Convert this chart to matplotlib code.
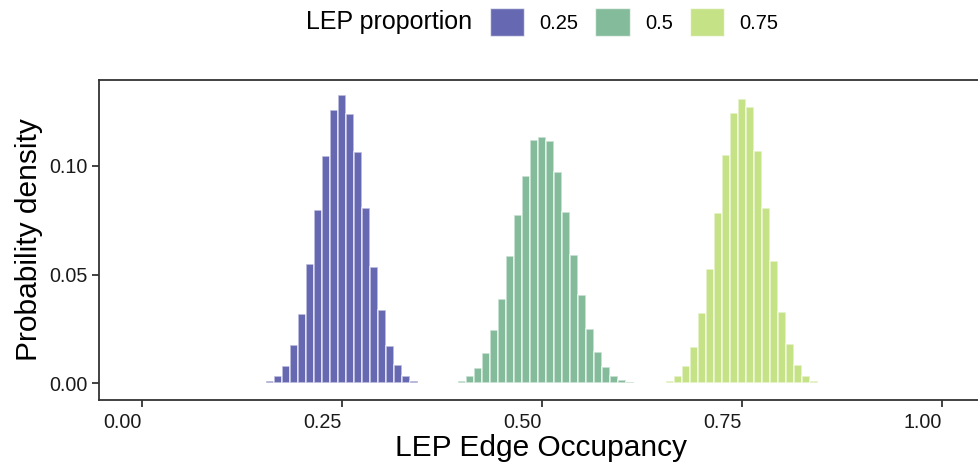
import numpy as np
import matplotlib.pyplot as plt
from matplotlib.patches import Patch

plt.rcParams['font.family'] = ['Liberation Sans', 'DejaVu Sans']

# histogram of LEP edge occupancy, one group per LEP proportion (bin width 0.01)
bin_width = 0.01
groups = ['0.25', '0.5', '0.75']
colors = ['#6768B2', '#84BB9B', '#C5E286']

# first bin centre of each group
first_bin = [0.04, 0.35, 0.66]

# proportion of samples per bin
dens_025 = [0.0002, 0.0002, 0.0002, 0.0002, 0.0002, 0.0002, 0.0002, 0.0002,
            0.0002, 0.0002, 0.0002, 0.0002,
            0.0008, 0.0031, 0.0078, 0.0174, 0.0317, 0.0547, 0.0797, 0.1046,
            0.1258, 0.1327, 0.1240, 0.1066, 0.0808, 0.0535, 0.0335, 0.0172,
            0.0081, 0.0032, 0.0009]
dens_050 = [0.0002, 0.0002, 0.0002, 0.0002, 0.0002,
            0.0011, 0.0031, 0.0071, 0.0140, 0.0244, 0.0389, 0.0584, 0.0776,
            0.0955, 0.1118, 0.1134, 0.1117, 0.0971, 0.0787, 0.0590, 0.0404,
            0.0249, 0.0144, 0.0074, 0.0032, 0.0012, 0.0003]
dens_075 = [0.0009, 0.0031, 0.0080, 0.0166, 0.0323, 0.0527, 0.0785, 0.1049,
            0.1246, 0.1309, 0.1272, 0.1069, 0.0808, 0.0562, 0.0326, 0.0180,
            0.0083, 0.0034, 0.0011, 0.0, 0.0, 0.0, 0.0, 0.0002, 0.0002,
            0.0002, 0.0002, 0.0002, 0.0002, 0.0002, 0.0002, 0.0002, 0.0002]
densities = [dens_025, dens_050, dens_075]

x_ticks = [0.00, 0.25, 0.50, 0.75, 1.00]
y_ticks = [0.00, 0.05, 0.10]

fig = plt.figure(figsize=(9.79, 4.67), dpi=100)
ax = fig.add_axes([99 / 979, 1 - 400 / 467, 884 / 979, 320 / 467])

for start, dens, col in zip(first_bin, densities, colors):
    centres = start + bin_width * np.arange(len(dens))
    ax.bar(centres, dens, width=bin_width, color=col,
           edgecolor=(1, 1, 1, 0.65), linewidth=1.2)

ax.set_xlim(-0.0535, 1.051)
ax.set_ylim(-0.0078, 0.1396)

ax.set_xticks(x_ticks)
ax.set_xticklabels(['%.2f' % v for v in x_ticks], ha='right')
ax.set_yticks(y_ticks)
ax.set_yticklabels(['%.2f' % v for v in y_ticks])
ax.tick_params(axis='both', labelsize=14.2, colors='#333333', labelcolor='#1a1a1a',
               length=5, width=1.3, pad=3)
ax.tick_params(axis='x', pad=4)

for side in ['left', 'bottom', 'top', 'right']:
    ax.spines[side].set_color('#333333')
    ax.spines[side].set_linewidth(1.3)

ax.set_xlabel('LEP Edge Occupancy', fontsize=21.5, labelpad=2)
ax.set_ylabel('Probability density', fontsize=21.5, labelpad=5)

# legend across the top with the title to the left of the keys
fig.text(306 / 979, 1 - 22 / 467, 'LEP proportion', fontsize=18, va='center', ha='left')
handles = [Patch(facecolor=c, edgecolor=(1, 1, 1, 0.65), linewidth=1.0) for c in colors]
fig.legend(handles, groups, loc='center left', bbox_to_anchor=(490 / 979, 1 - 22 / 467),
           ncol=3, frameon=False, fontsize=14.5, handlelength=1.7, handleheight=1.7,
           handletextpad=0.75, columnspacing=0.85, borderpad=0, borderaxespad=0)

fig.savefig('out.png', dpi=100)
